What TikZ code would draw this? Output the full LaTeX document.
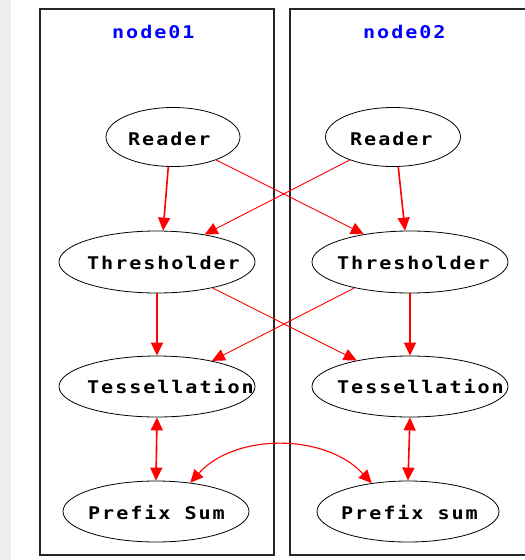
\documentclass[tikz,border=0pt]{standalone}
\usepackage{fontspec}
\newfontfamily\gvfont[FakeStretch=1.15,LetterSpace=11]{DejaVu Sans Mono}
\usetikzlibrary{arrows.meta,shapes.geometric}
\definecolor{stripgray}{HTML}{EEEEEE}
\definecolor{edgered}{HTML}{FF0000}
\definecolor{labelblue}{HTML}{0000FF}
\begin{document}
\begin{tikzpicture}[x=1pt,y=-1pt,
  cluster/.style={draw=black!85,line width=1.3pt},
  proc/.style={draw=black,line width=0.8pt,ellipse,inner sep=0pt},
  txt/.style={anchor=base west,inner sep=0pt,font=\gvfont\bfseries\fontsize{17.5}{20}\selectfont},
  title/.style={txt,text=labelblue},
  vedge/.style={draw=edgered,line width=1.6pt,-{Triangle[length=13pt,width=12pt]}},
  xedge/.style={draw=edgered,line width=0.9pt,-{Triangle[length=13pt,width=12pt]}},
  bedge/.style={draw=edgered,line width=1.6pt,{Triangle[length=13pt,width=12pt]}-{Triangle[length=13pt,width=12pt]}},
  cedge/.style={draw=edgered,line width=1.1pt,{Triangle[length=13pt,width=12pt]}-{Triangle[length=13pt,width=12pt]}}]
\clip (0,0) rectangle (525,560);
\fill[white] (0,0) rectangle (525,560);
\fill[stripgray] (0,0) rectangle (11,560);

% the two cluster frames
\draw[cluster] (40,9) rectangle (274,555);
\draw[cluster] (290,9) rectangle (545,555);
\node[title] (ttlA) at (112,38) {node01};
\node[title] (ttlB) at (363,38) {node02};

% left column
\node[proc,minimum width=134pt,minimum height=59pt] (rdL) at (173,137) {};
\node[proc,minimum width=196pt,minimum height=62pt] (thL) at (157,262) {};
\node[proc,minimum width=196pt,minimum height=61pt] (tsL) at (157,386.5) {};
\node[proc,minimum width=186pt,minimum height=61pt] (psL) at (156,511.5) {};
\node[txt] (rdLt) at (128,145) {Reader};
\node[txt] (thLt) at (87,269.5) {Thresholder};
\node[txt] (tsLt) at (87,393.5) {Tessellation};
\node[txt] (psLt) at (88,519) {Prefix Sum};

% right column
\node[proc,minimum width=135pt,minimum height=59pt] (rdR) at (393,137) {};
\node[proc,minimum width=196pt,minimum height=62pt] (thR) at (410,262) {};
\node[proc,minimum width=196pt,minimum height=61pt] (tsR) at (410,386.5) {};
\node[proc,minimum width=182pt,minimum height=61pt] (psR) at (408,511.5) {};
\node[txt] (rdRt) at (350,145) {Reader};
\node[txt] (thRt) at (337,269.5) {Thresholder};
\node[txt] (tsRt) at (337,393.5) {Tessellation};
\node[txt] (psRt) at (341,519) {Prefix sum};

% reader -> thresholder
\draw[vedge] (rdL.-99) -- (thL.79);
\draw[xedge] (rdL.-28) -- (thR.149);
\draw[xedge] (rdR.-152) -- (thL.30);
\draw[vedge] (rdR.-80) -- (thR.99);

% thresholder -> tessellation
\draw[vedge] (thL.south) -- (tsL.north);
\draw[xedge] (thL.-25) -- (tsR.154);
\draw[xedge] (thR.-155) -- (tsL.25);
\draw[vedge] (thR.south) -- (tsR.north);

% tessellation <-> prefix sum
\draw[bedge] (tsL.south) -- (psL.north);
\draw[bedge] (tsR.south) -- (psR.north);
\draw[cedge] (psL.40) .. controls (235,433) and (325,433) .. (psR.142);
\end{tikzpicture}
\end{document}
